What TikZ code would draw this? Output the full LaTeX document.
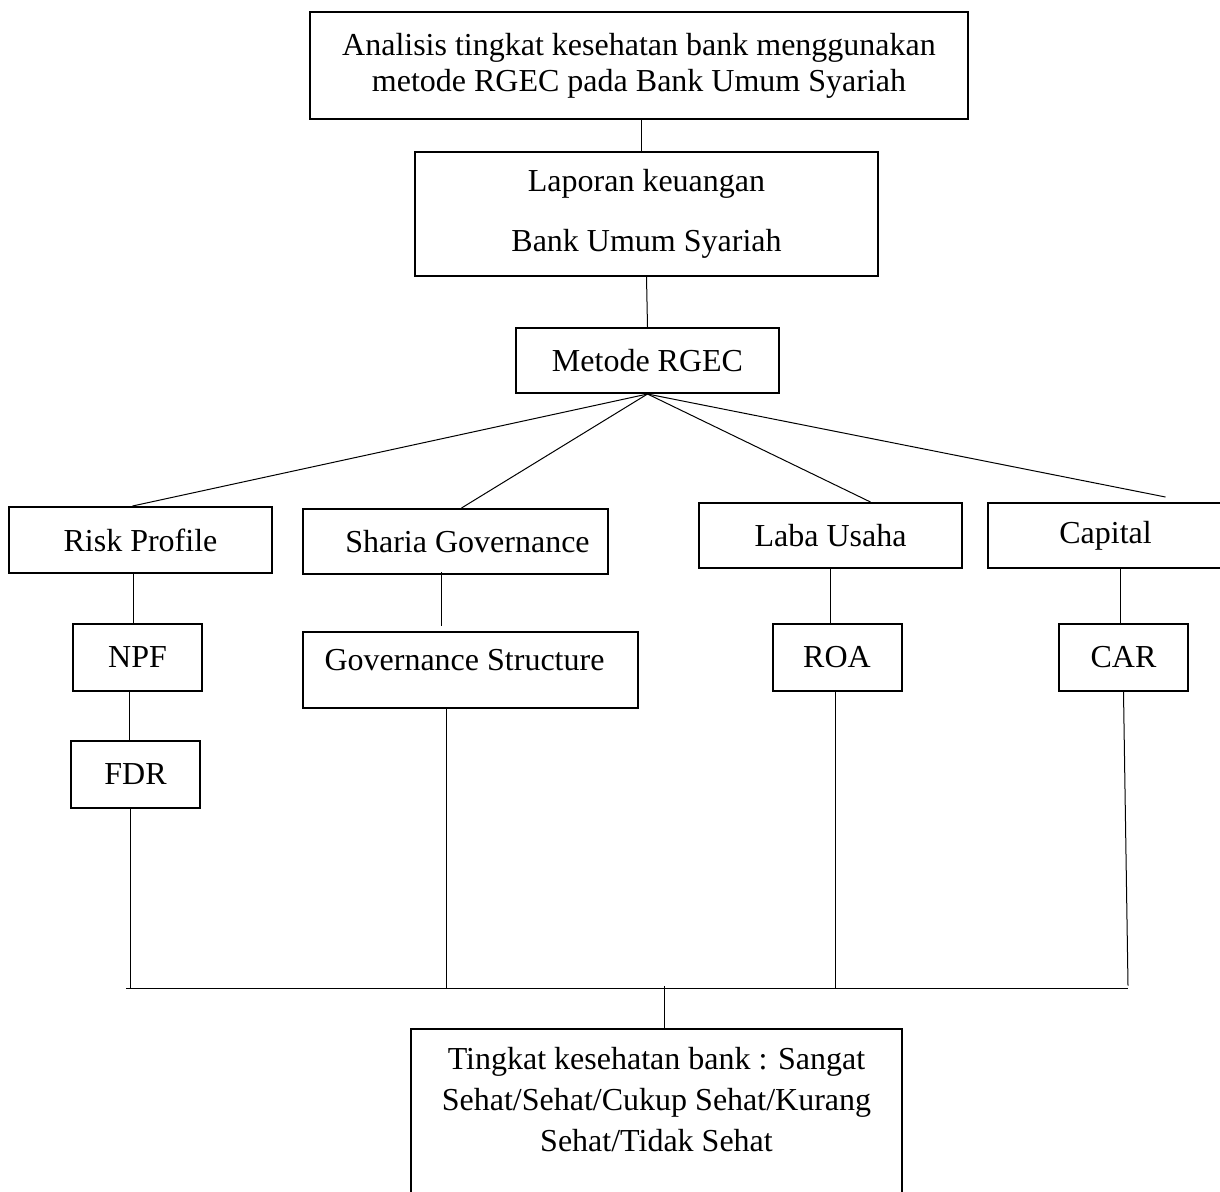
\documentclass[tikz,border=0pt]{standalone}
\usepackage{fontspec}
\setmainfont{Liberation Serif}
\usetikzlibrary{positioning, calc}

\begin{document}
\begin{tikzpicture}[
    x=0.5pt, y=-0.5pt,
    every node/.style={font=\fontsize{16}{18}\selectfont},
    block/.style={rectangle, draw=black, line width=1pt, align=center, inner sep=0pt},
    small/.style={block, minimum width=64.5pt, minimum height=33.5pt},
    conn/.style={draw=black, line width=0.5pt}
]
\useasboundingbox (0,0) rectangle (1220,1191);

% Top chain
\node[block, minimum width=329pt, minimum height=53.5pt] (judul) at (639,65.5) {Analisis tingkat kesehatan bank menggunakan\\metode RGEC pada Bank Umum Syariah};
\node[block, minimum width=231.5pt, minimum height=62pt] (laporan) at (646.5,214) {Laporan keuangan\\[12pt]Bank Umum Syariah};
\node[block, minimum width=131.5pt, minimum height=32.5pt] (rgec) at (647.5,360.5) {Metode RGEC};

% Four aspects of RGEC
\node[block, minimum width=131.5pt, minimum height=33pt] (risk) at (140.5,540) {Risk Profile};
\node[block, minimum width=152.5pt, minimum height=32.5pt] (sharia) at (455.5,541.5) {\hspace*{12pt}Sharia Governance};
\node[block, minimum width=131.5pt, minimum height=32.5pt] (laba) at (830.5,535.5) {Laba Usaha};
\node[block, minimum width=117.5pt, minimum height=32.5pt] (capital) at (1105.5,535.5) {Capital};

% Indicators
\node[small] (npf) at (137.5,657.5) {NPF};
\node[small] (fdr) at (135.5,774.5) {FDR};
\node[block, minimum width=167.5pt, minimum height=38pt, text depth=10pt] (gov) at (470.5,670) {Governance Structure\hspace*{6pt}};
\node[small] (roa) at (837,657.5) {ROA};
\node[small] (car) at (1123.5,657.5) {CAR};

% Result
\node[block, minimum width=245.5pt, minimum height=83.5pt, text depth=13pt,
      font=\fontsize{16}{20.5}\selectfont] (hasil) at (656.5,1112.5)
      {Tingkat kesehatan bank : Sangat\\Sehat/Sehat/Cukup Sehat/Kurang\\Sehat/Tidak Sehat};

% Connectors - top chain
\draw[conn] ([xshift=1pt]judul.south) -- ([xshift=1pt]judul.south |- laporan.north);
\draw[conn] (laporan.south) -- (rgec.north);

% Fan out from RGEC
\draw[conn] (rgec.south) -- ([xshift=-4pt]risk.north);
\draw[conn] (rgec.south) -- ([xshift=3pt]sharia.north);
\draw[conn] (rgec.south) -- ([xshift=20pt]laba.north);
\draw[conn] (rgec.south) -- ([xshift=30pt,yshift=2.5pt]capital.north);

% Aspects to indicators
\draw[conn] ([xshift=-2pt]npf.north) -- ([xshift=-2pt]npf.north |- risk.south);
\draw[conn] ([xshift=-3pt]fdr.north) -- ([xshift=-3pt]fdr.north |- npf.south);
\draw[conn] ([xshift=-7.25pt,yshift=1.5pt]sharia.south) -- ++(0,-27pt);
\draw[conn] (laba.south) -- (laba.south |- roa.north);
\draw[conn] ([xshift=-1.75pt]car.north) -- ([xshift=-1.75pt]car.north |- capital.south);

% Collecting bus
\coordinate (busL) at (126,988.7);
\coordinate (busR) at (1128,988.7);
\draw[conn] (busL) -- (busR);
\draw[conn] ([xshift=-2.5pt]fdr.south) -- ([xshift=-2.5pt]fdr.south |- busL);
\draw[conn] ([xshift=-12pt]gov.south) -- ([xshift=-12pt]gov.south |- busL);
\draw[conn] ([xshift=-1pt]roa.south) -- ([xshift=-1pt]roa.south |- busL);
\draw[conn] (car.south) -- ([yshift=1.5pt]busR);
\draw[conn] ([xshift=4pt]hasil.north) -- ([xshift=4pt,yshift=1.5pt]hasil.north |- busL);

\end{tikzpicture}
\end{document}
